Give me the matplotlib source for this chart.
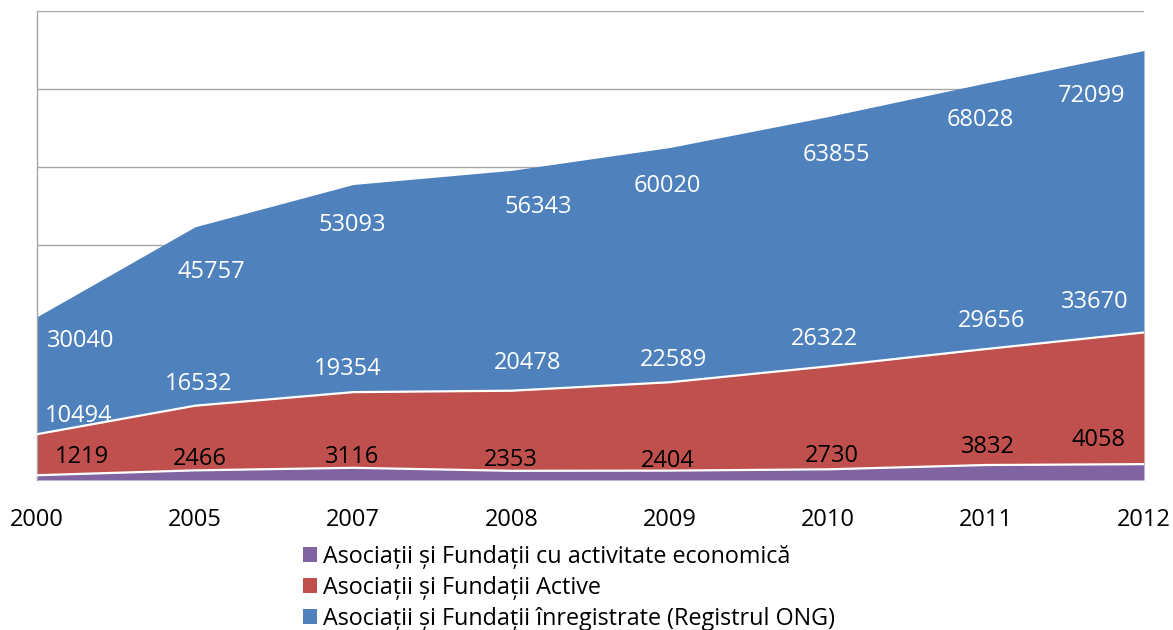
import matplotlib
matplotlib.use('Agg')
import matplotlib.pyplot as plt
from matplotlib.patches import Patch
import numpy as np

years = ['2000', '2005', '2007', '2008', '2009', '2010', '2011', '2012']
economic = [1219, 2466, 3116, 2353, 2404, 2730, 3832, 4058]
active = [10494, 16532, 19354, 20478, 22589, 26322, 29656, 33670]
registered = [30040, 45757, 53093, 56343, 60020, 63855, 68028, 72099]

series_names = ['Asociații și Fundații cu activitate economică',
                'Asociații și Fundații Active',
                'Asociații și Fundații înregistrate (Registrul ONG)']
colors = ['#8064A2', '#C0504D', '#4F81BD']
label_colors = ['black', 'white', 'white']

# data-label offsets (pixels) from the stacked top of each series
label_dx = [[45, 5, -1, -1, -2, 4, 2, -46],
            [42, 3, -6, 16, 4, -3, 6, -49],
            [44, 16, -1, 27, -2, 9, -6, -52]]
label_dy = [[21, 14, 14, 14, 13, 16, 21, 27],
            [21, 25, 26, 31, 25, 30, 31, 33],
            [-21, -42, -38, -34, -35, -35, -34, -43]]

plt.rcParams['font.family'] = ['Open Sans', 'DejaVu Sans']

W, H = 1173, 630
fig = plt.figure(figsize=(W / 100, H / 100), dpi=100)
ax = fig.add_axes([37 / W, 1 - 480 / H, (1144 - 37) / W, (480 - 10.7) / H])

x = np.arange(len(years))
data = [np.array(economic), np.array(active), np.array(registered)]
bottoms = np.zeros(len(years))
tops = []
for vals, col in zip(data, colors):
    top = bottoms + vals
    ax.fill_between(x, bottoms, top, color=col, lw=0, zorder=2)
    tops.append(top.copy())
    bottoms = top
for top in tops[:2]:
    ax.plot(x, top, color='white', lw=1.6, zorder=3)

for s, (vals, top) in enumerate(zip(data, tops)):
    for i in range(len(years)):
        ax.annotate(str(vals[i]), xy=(x[i], top[i]),
                    xytext=(label_dx[s][i], label_dy[s][i]),
                    textcoords='offset pixels', ha='center', va='center_baseline',
                    fontsize=17, color=label_colors[s], zorder=5)

ax.set_xlim(0, len(years) - 1)
ax.set_ylim(0, 120000)
ax.set_yticks(np.arange(0, 120001, 20000))
ax.yaxis.grid(True, color='#A6A6A6', lw=1.0, zorder=0)
ax.set_axisbelow(True)
ax.tick_params(axis='y', length=0, labelleft=False)
ax.set_xticks(x)
ax.set_xticklabels(years, fontsize=17)
ax.tick_params(axis='x', length=0, pad=20)
for sp in ['top', 'right', 'bottom']:
    ax.spines[sp].set_visible(False)
ax.spines['left'].set_color('#A6A6A6')
ax.spines['left'].set_linewidth(1.0)

handles = [Patch(facecolor=c, edgecolor='none') for c in colors]
fig.legend(handles, series_names, loc='upper left',
           bbox_to_anchor=(303 / W, 1 - 545 / H), frameon=False,
           fontsize=16.8, handlelength=0.6, handleheight=0.6,
           handletextpad=0.25, labelspacing=0.3, borderpad=0, borderaxespad=0)

fig.savefig('out.png', dpi=100)
